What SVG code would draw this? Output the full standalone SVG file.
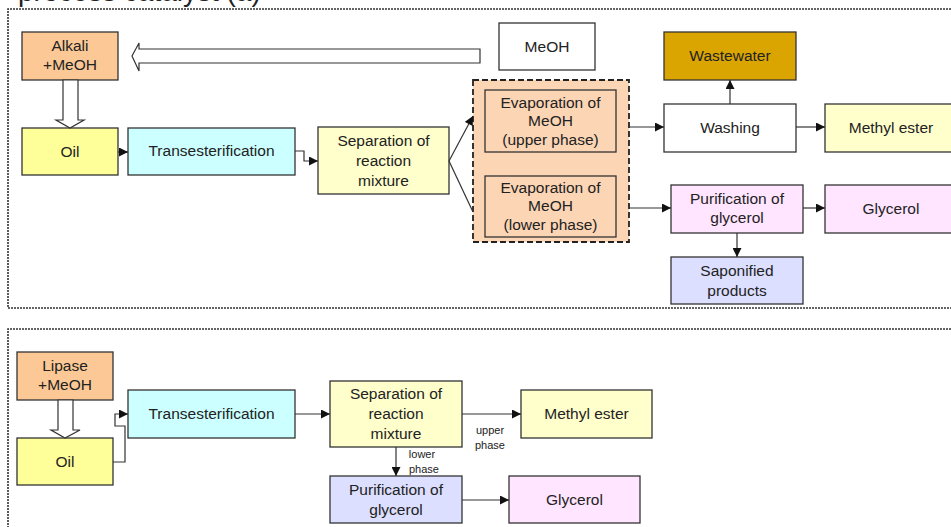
<svg xmlns="http://www.w3.org/2000/svg" width="951" height="527" viewBox="0 0 951 527">
<style>
  text { font-family: "Liberation Sans", Arial, sans-serif; font-size: 15.5px; fill: #222; text-anchor: middle; }
  .small { font-size: 11px; }
  .title { font-size: 28px; text-anchor: start; }
  .box { stroke: #333; stroke-width: 1.3; }
  .frame { fill: none; stroke: #333; stroke-width: 1.6; stroke-dasharray: 2 1; }
  .conn { fill: none; stroke: #333; stroke-width: 1.2; }
  .hollow { fill: #fff; stroke: #333; stroke-width: 1.2; }
  .peach { fill: #fcc996; }
  .oil { fill: #ffff99; }
  .cyan { fill: #ccffff; }
  .ltyellow { fill: #ffffcc; }
  .white { fill: #ffffff; }
  .gold { fill: #daa500; }
  .evap { fill: #fcd5b5; }
  .pink { fill: #ffe5ff; }
  .lav { fill: #dcdfff; }
</style>
<defs>
  <marker id="arrow" viewBox="0 0 10 10" refX="10" refY="5" markerWidth="10" markerHeight="9" markerUnits="userSpaceOnUse" orient="auto">
    <path d="M0,0 L10,5 L0,10 Z" fill="#111"/>
  </marker>
</defs>
<rect width="951" height="527" fill="#fff"/>

<text class="title" x="18" y="1">process catalyst (a)</text>

<!-- frames -->
<g id="frames">
  <path class="frame" d="M960,9 H8 V308 H960"/>
  <path class="frame" d="M960,329 H8 V540"/>
</g>

<!-- top panel nodes -->
<g id="alkali"><rect class="box peach" x="22" y="32" width="96" height="48"/><text x="70" y="51">Alkali</text><text x="70" y="70">+MeOH</text></g>
<g id="oil1"><rect class="box oil" x="22" y="128" width="96" height="47"/><text x="70" y="157">Oil</text></g>
<g id="trans1"><rect class="box cyan" x="128" y="128" width="167" height="47"/><text x="211.5" y="156">Transesterification</text></g>
<g id="sep1"><rect class="box ltyellow" x="318" y="127" width="131" height="67"/><text x="383.5" y="146">Separation of</text><text x="383.5" y="166">reaction</text><text x="383.5" y="186">mixture</text></g>
<g id="meoh"><rect class="box white" x="499" y="23" width="96" height="47"/><text x="547" y="52">MeOH</text></g>
<g id="evapgroup">
  <rect x="473" y="80" width="156" height="162" fill="#fcd5b5" stroke="#222" stroke-width="1.8" stroke-dasharray="6 3"/>
  <g id="evapupper"><rect class="box evap" x="485" y="90" width="131" height="62"/><text x="550.5" y="108">Evaporation of</text><text x="550.5" y="126">MeOH</text><text x="550.5" y="145">(upper phase)</text></g>
  <g id="evaplower"><rect class="box evap" x="485" y="176" width="131" height="61"/><text x="550.5" y="193">Evaporation of</text><text x="550.5" y="211">MeOH</text><text x="550.5" y="230">(lower phase)</text></g>
</g>
<g id="wastewater"><rect class="box gold" x="664" y="32" width="132" height="48"/><text x="730" y="61">Wastewater</text></g>
<g id="washing"><rect class="box white" x="664" y="104" width="132" height="48"/><text x="730" y="133">Washing</text></g>
<g id="methylester1"><rect class="box ltyellow" x="825" y="104" width="132" height="48"/><text x="891" y="133">Methyl ester</text></g>
<g id="purif1"><rect class="box pink" x="671" y="185" width="132" height="48"/><text x="737" y="204">Purification of</text><text x="737" y="223">glycerol</text></g>
<g id="glycerol1"><rect class="box pink" x="825" y="185" width="132" height="48"/><text x="891" y="214">Glycerol</text></g>
<g id="saponified"><rect class="box lav" x="671" y="257" width="132" height="47"/><text x="737" y="276">Saponified</text><text x="737" y="296">products</text></g>

<!-- bottom panel nodes -->
<g id="lipase"><rect class="box peach" x="17" y="352" width="96" height="48"/><text x="65" y="371">Lipase</text><text x="65" y="390">+MeOH</text></g>
<g id="oil2"><rect class="box oil" x="17" y="438" width="96" height="47"/><text x="65" y="467">Oil</text></g>
<g id="trans2"><rect class="box cyan" x="128" y="390" width="167" height="48"/><text x="211.5" y="419">Transesterification</text></g>
<g id="sep2"><rect class="box ltyellow" x="330" y="381" width="132" height="66"/><text x="396" y="399">Separation of</text><text x="396" y="419">reaction</text><text x="396" y="439">mixture</text></g>
<g id="methylester2"><rect class="box ltyellow" x="521" y="390" width="131" height="48"/><text x="586.5" y="419">Methyl ester</text></g>
<g id="purif2"><rect class="box lav" x="330" y="476" width="132" height="47"/><text x="396" y="495">Purification of</text><text x="396" y="515">glycerol</text></g>
<g id="glycerol2"><rect class="box pink" x="509" y="476" width="131" height="47"/><text x="574.5" y="505">Glycerol</text></g>

<!-- connectors -->
<g id="connectors">
  <!-- hollow arrows -->
  <polygon class="hollow" points="480,49 139,49 139,43 132,56 139,71 139,63 480,63"/>
  <polygon class="hollow" points="63,80 78,80 78,120 84,120 70,128 56,120 63,120"/>
  <polygon class="hollow" points="58,400 73,400 73,430 80,430 65,438 51,430 58,430"/>

  <line class="conn" x1="118" y1="152" x2="128" y2="152" marker-end="url(#arrow)"/>
  <path class="conn" d="M295,151 H304 V161 H318" marker-end="url(#arrow)"/>
  <line class="conn" x1="449" y1="161" x2="473" y2="116" marker-end="url(#arrow)"/>
  <line class="conn" x1="449" y1="161" x2="473" y2="212"/>
  <line class="conn" x1="629" y1="127" x2="664" y2="127" marker-end="url(#arrow)"/>
  <line class="conn" x1="629" y1="208" x2="671" y2="208" marker-end="url(#arrow)"/>
  <line class="conn" x1="730" y1="104" x2="730" y2="80" marker-end="url(#arrow)"/>
  <line class="conn" x1="796" y1="127" x2="825" y2="127" marker-end="url(#arrow)"/>
  <line class="conn" x1="803" y1="208" x2="825" y2="208" marker-end="url(#arrow)"/>
  <line class="conn" x1="737" y1="233" x2="737" y2="257" marker-end="url(#arrow)"/>

  <path class="conn" d="M113,462 H125 V426 H115 V414 H128" marker-end="url(#arrow)"/>
  <line class="conn" x1="295" y1="414" x2="330" y2="414" marker-end="url(#arrow)"/>
  <line class="conn" x1="462" y1="414" x2="521" y2="414" marker-end="url(#arrow)"/>
  <line class="conn" x1="396" y1="447" x2="396" y2="476" marker-end="url(#arrow)"/>
  <line class="conn" x1="462" y1="500" x2="509" y2="500" marker-end="url(#arrow)"/>
  <text class="small" x="490" y="434">upper</text>
  <text class="small" x="490" y="449">phase</text>
  <text class="small" x="422" y="458">lower</text>
  <text class="small" x="424" y="473">phase</text>
</g>
</svg>
